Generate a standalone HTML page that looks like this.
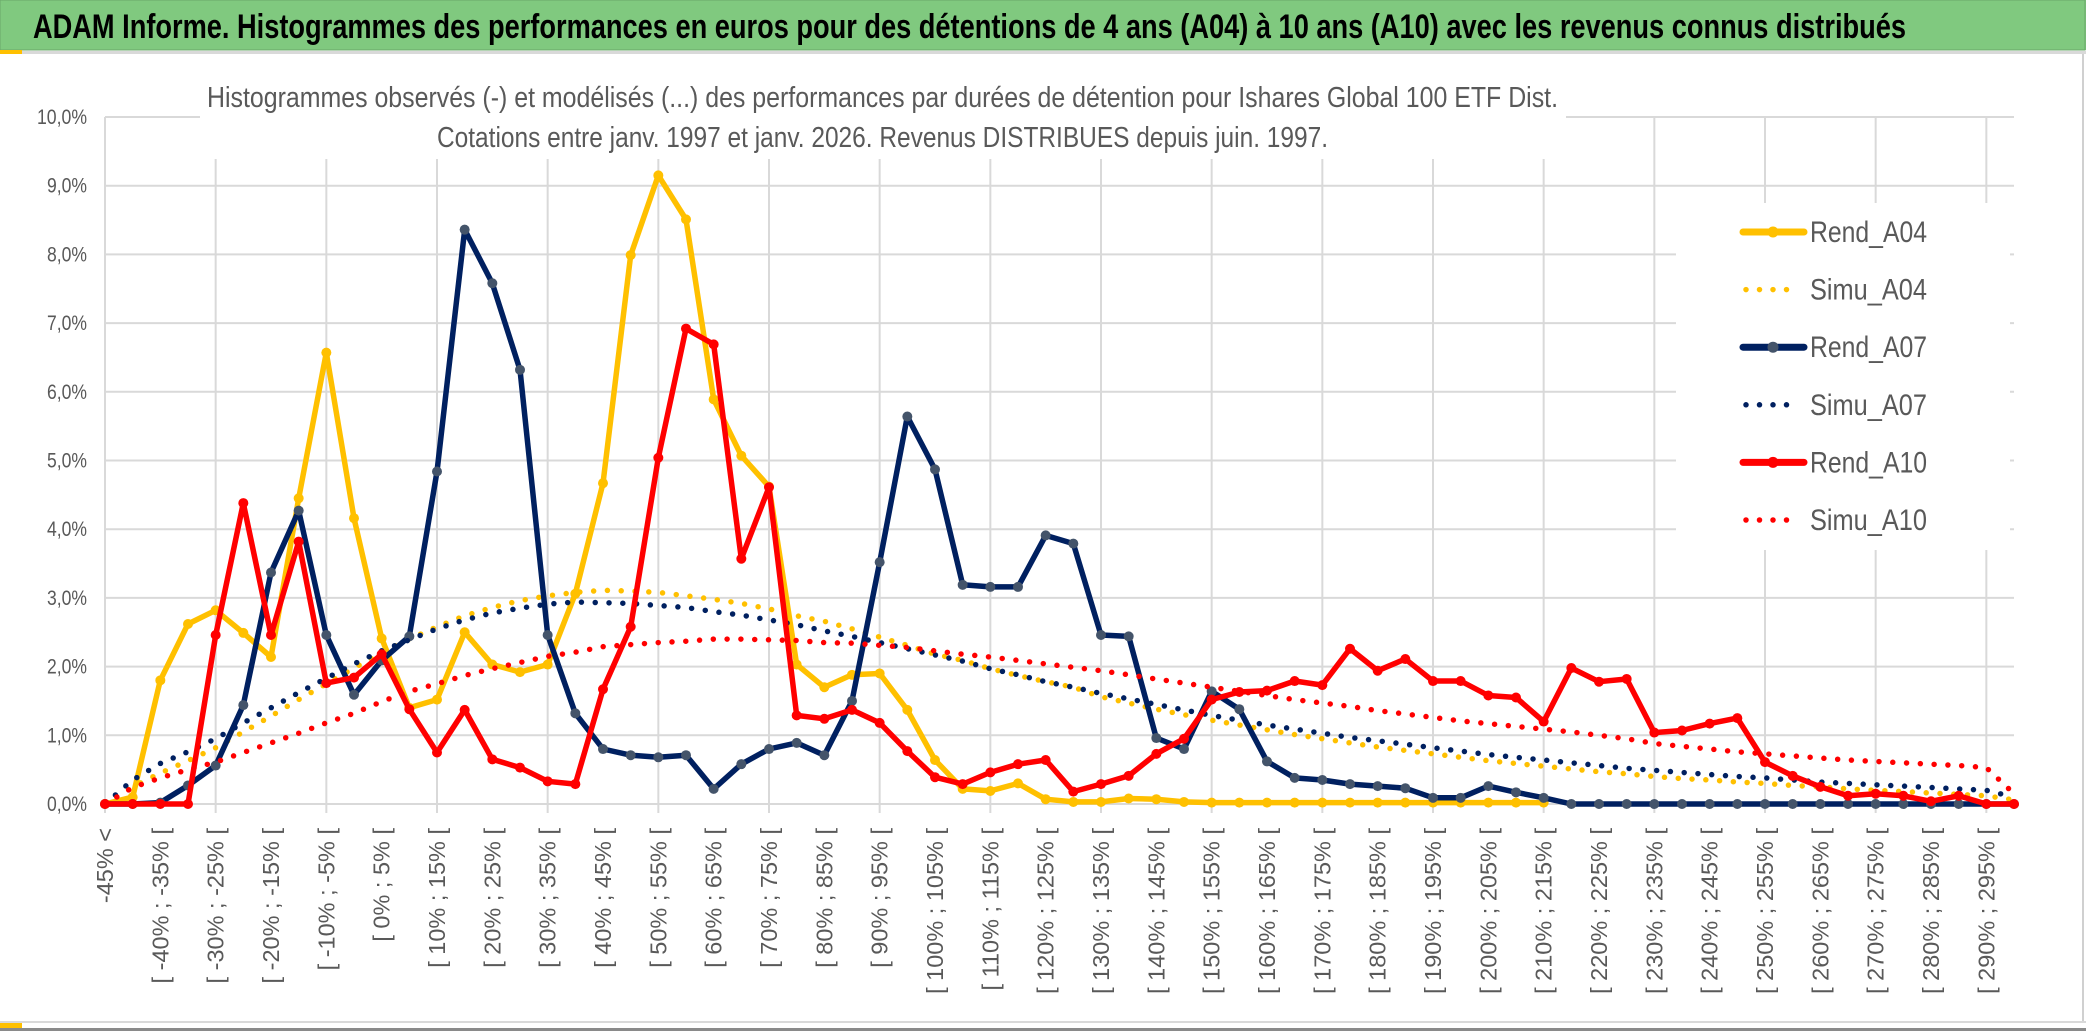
<!DOCTYPE html>
<html><head><meta charset="utf-8"><title>ADAM Informe</title>
<style>
html,body{margin:0;padding:0;background:#fff;}
svg{display:block;}
text{font-family:"Liberation Sans",Arial,sans-serif;}
</style></head>
<body>
<svg id="chart" xmlns="http://www.w3.org/2000/svg" width="2086" height="1031" viewBox="0 0 2086 1031">
  <rect x="0" y="0" width="2086" height="1031" fill="#ffffff"/>
  <rect x="0" y="0" width="2086" height="50" fill="#80c97f"/>
  <rect x="0" y="0" width="2085" height="50" fill="none" stroke="#6aa86a" stroke-width="1"/>
  <text x="33" y="38" font-size="34" font-weight="bold" fill="#000" textLength="1873" lengthAdjust="spacingAndGlyphs">ADAM Informe. Histogrammes des performances en euros pour des détentions de 4 ans (A04) à 10 ans (A10) avec les revenus connus distribués</text>
  <rect x="0" y="51" width="2086" height="3" fill="#d9d9d9"/>
  <rect x="0" y="50" width="22" height="4" fill="#ffc000"/>
  <rect x="2082" y="54" width="2" height="968" fill="#d0d0d0"/>
  <rect x="0" y="1021" width="2086" height="2" fill="#d9d9d9"/>
  <rect x="0" y="1028" width="2086" height="3" fill="#8a8a8a"/>
  <rect x="0" y="1023" width="22" height="5" fill="#ffc000"/>
  <g id="grid"></g>
  <g id="yaxis"></g>
  <g id="xaxis"></g>
  <rect x="200" y="60" width="1366" height="99" fill="#fff"/>
  <text x="207" y="107" font-size="29" fill="#595959" textLength="1351" lengthAdjust="spacingAndGlyphs">Histogrammes observés (-) et modélisés (...) des performances par durées de détention pour Ishares Global 100 ETF Dist.</text>
  <text x="437" y="147" font-size="29" fill="#595959" textLength="891" lengthAdjust="spacingAndGlyphs">Cotations entre janv. 1997 et janv. 2026. Revenus DISTRIBUES depuis juin. 1997.</text>
  <g id="series"></g>
  <rect x="1676" y="203" width="334" height="347" fill="#fff"/>
  <g id="legend"></g>
</svg>
<script>
const categories = ["-45% <","[ -45% ; -40% [","[ -40% ; -35% [","[ -35% ; -30% [","[ -30% ; -25% [","[ -25% ; -20% [","[ -20% ; -15% [","[ -15% ; -10% [","[ -10% ; -5% [","[ -5% ; 0% [","[ 0% ; 5% [","[ 5% ; 10% [","[ 10% ; 15% [","[ 15% ; 20% [","[ 20% ; 25% [","[ 25% ; 30% [","[ 30% ; 35% [","[ 35% ; 40% [","[ 40% ; 45% [","[ 45% ; 50% [","[ 50% ; 55% [","[ 55% ; 60% [","[ 60% ; 65% [","[ 65% ; 70% [","[ 70% ; 75% [","[ 75% ; 80% [","[ 80% ; 85% [","[ 85% ; 90% [","[ 90% ; 95% [","[ 95% ; 100% [","[ 100% ; 105% [","[ 105% ; 110% [","[ 110% ; 115% [","[ 115% ; 120% [","[ 120% ; 125% [","[ 125% ; 130% [","[ 130% ; 135% [","[ 135% ; 140% [","[ 140% ; 145% [","[ 145% ; 150% [","[ 150% ; 155% [","[ 155% ; 160% [","[ 160% ; 165% [","[ 165% ; 170% [","[ 170% ; 175% [","[ 175% ; 180% [","[ 180% ; 185% [","[ 185% ; 190% [","[ 190% ; 195% [","[ 195% ; 200% [","[ 200% ; 205% [","[ 205% ; 210% [","[ 210% ; 215% [","[ 215% ; 220% [","[ 220% ; 225% [","[ 225% ; 230% [","[ 230% ; 235% [","[ 235% ; 240% [","[ 240% ; 245% [","[ 245% ; 250% [","[ 250% ; 255% [","[ 255% ; 260% [","[ 260% ; 265% [","[ 265% ; 270% [","[ 270% ; 275% [","[ 275% ; 280% [","[ 280% ; 285% [","[ 285% ; 290% [","[ 290% ; 295% [","[ 295% ; 300% ["];
const yTicks = [0,1,2,3,4,5,6,7,8,9,10];
const yTickLabels = ["0,0%","1,0%","2,0%","3,0%","4,0%","5,0%","6,0%","7,0%","8,0%","9,0%","10,0%"];
const rendA04 = [0,0.1,1.80,2.62,2.82,2.49,2.14,4.45,6.57,4.16,2.41,1.40,1.52,2.50,2.03,1.92,2.03,3.06,4.67,7.99,9.15,8.51,5.89,5.07,4.62,2.03,1.70,1.88,1.90,1.37,0.64,0.22,0.19,0.30,0.07,0.03,0.03,0.08,0.07,0.03,0.02,0.02,0.02,0.02,0.02,0.02,0.02,0.02,0.02,0.02,0.02,0.02,0.02];
const simuA04 = [0,0.25,0.45,0.63,0.82,1.05,1.28,1.52,1.75,1.98,2.20,2.40,2.58,2.74,2.86,2.96,3.03,3.08,3.11,3.10,3.08,3.03,2.98,2.92,2.84,2.74,2.66,2.55,2.43,2.31,2.18,2.09,1.97,1.87,1.78,1.70,1.56,1.47,1.38,1.30,1.22,1.15,1.08,1.01,0.95,0.89,0.83,0.78,0.73,0.68,0.63,0.59,0.55,0.51,0.47,0.44,0.40,0.37,0.35,0.32,0.30,0.27,0.25,0.22,0.20,0.18,0.16,0.14,0.12,0.06];
const rendA07 = [0,0,0.02,0.27,0.56,1.44,3.37,4.27,2.46,1.59,2.09,2.44,4.84,8.36,7.58,6.32,2.46,1.32,0.80,0.71,0.68,0.71,0.22,0.58,0.80,0.89,0.71,1.50,3.52,5.64,4.87,3.19,3.16,3.16,3.91,3.79,2.46,2.44,0.96,0.80,1.64,1.38,0.62,0.38,0.35,0.29,0.26,0.23,0.09,0.09,0.26,0.17,0.09,0,0,0,0,0,0,0,0,0,0,0,0,0,0,0,0,0];
const simuA07 = [0,0.35,0.59,0.76,0.95,1.18,1.40,1.62,1.83,2.04,2.23,2.39,2.55,2.68,2.78,2.85,2.91,2.94,2.93,2.92,2.89,2.86,2.80,2.75,2.68,2.61,2.52,2.44,2.35,2.26,2.17,2.08,1.97,1.88,1.78,1.70,1.61,1.53,1.45,1.37,1.29,1.22,1.15,1.09,1.03,0.97,0.92,0.87,0.82,0.77,0.72,0.68,0.64,0.60,0.56,0.52,0.49,0.46,0.43,0.40,0.38,0.35,0.32,0.30,0.28,0.26,0.24,0.22,0.20,0.10];
const rendA10 = [0,0,0,0,2.46,4.38,2.46,3.82,1.76,1.84,2.18,1.38,0.75,1.37,0.65,0.53,0.33,0.29,1.67,2.58,5.04,6.92,6.69,3.57,4.61,1.29,1.24,1.37,1.18,0.77,0.39,0.29,0.46,0.58,0.64,0.18,0.29,0.41,0.73,0.95,1.52,1.63,1.65,1.79,1.73,2.26,1.94,2.11,1.79,1.79,1.58,1.55,1.20,1.98,1.78,1.82,1.04,1.07,1.17,1.25,0.61,0.41,0.25,0.12,0.15,0.12,0.04,0.12,0,0];
const simuA10 = [0,0.24,0.38,0.50,0.61,0.75,0.89,1.03,1.18,1.32,1.49,1.64,1.75,1.87,1.97,2.06,2.15,2.21,2.29,2.32,2.35,2.37,2.40,2.40,2.39,2.38,2.35,2.34,2.31,2.28,2.23,2.18,2.14,2.09,2.04,1.99,1.94,1.88,1.82,1.76,1.70,1.64,1.58,1.52,1.47,1.42,1.36,1.31,1.26,1.21,1.17,1.13,1.09,1.05,1.00,0.95,0.88,0.84,0.80,0.76,0.73,0.70,0.67,0.64,0.62,0.60,0.58,0.56,0.53,0.15];
const seriesNames = ["Rend_A04","Simu_A04","Rend_A07","Simu_A07","Rend_A10","Simu_A10"];

const NS = "http://www.w3.org/2000/svg";
const X0 = 105, X1 = 2014, Y0 = 804, PER = 68.7;
const step = (X1 - X0) / (categories.length - 1);
function xPos(i){ return X0 + i * step; }
function yPos(v){ return Y0 - v * PER; }
function mk(tag, attrs, parent){
  const e = document.createElementNS(NS, tag);
  for (const k in attrs) e.setAttribute(k, attrs[k]);
  parent.appendChild(e);
  return e;
}
const grid = document.getElementById('grid');
const yaxis = document.getElementById('yaxis');
const xaxis = document.getElementById('xaxis');
const seriesG = document.getElementById('series');
const legend = document.getElementById('legend');

yTicks.forEach((t, k) => {
  const ln = mk('line', {x1: X0, x2: X1, y1: yPos(t), y2: yPos(t), stroke: '#d9d9d9', 'stroke-width': 2}, grid);
  
  
  const w = yTickLabels[k].length === 5 ? 50 : 40;
  const tx = mk('text', {x: 87 - w, y: yPos(t) + 7, 'font-size': 21, fill: '#595959', textLength: w, lengthAdjust: 'spacingAndGlyphs'}, yaxis);
  tx.textContent = yTickLabels[k];
  
  
});
categories.forEach((c, i) => {
  if (i % 4 === 0) {
    const vl = mk('line', {x1: xPos(i), x2: xPos(i), y1: yPos(10), y2: Y0 + 9, stroke: '#d9d9d9', 'stroke-width': 2}, grid);
    
    
  }
  if (i % 2 === 0) {
    const tx = mk('text', {x: 0, y: 0, 'font-size': 23.5, fill: '#595959', 'text-anchor': 'end',
      transform: 'translate(' + (xPos(i) + 8) + ',828) rotate(-90)'}, xaxis);
    tx.textContent = c;
    
    
  }
});

function drawRend(data, color, markerColor, name){
  const g = mk('g', {}, seriesG);
  
  
  const pts = data.map((v, i) => xPos(i).toFixed(1) + ',' + yPos(v).toFixed(1)).join(' ');
  const pl = mk('polyline', {points: pts, fill: 'none', stroke: color, 'stroke-width': 5.5, 'stroke-linejoin': 'round', 'stroke-linecap': 'round'}, g);
  
  
  data.forEach((v, i) => {
    const c = mk('circle', {cx: xPos(i), cy: yPos(v), r: 5, fill: markerColor}, g);
    
    
  });
}
function drawSimu(data, color, name){
  const pts = data.map((v, i) => xPos(i).toFixed(1) + ',' + yPos(v).toFixed(1)).join(' ');
  const pl = mk('polyline', {points: pts, fill: 'none', stroke: color, 'stroke-width': 5.5, 'stroke-linecap': 'round', 'stroke-dasharray': '0 13.8'}, seriesG);
  
  
}
drawRend(rendA04, '#ffc000', '#ffc000', 'rend-a04');
drawSimu(simuA04, '#ffc000', 'simu-a04');
drawRend(rendA07, '#002060', '#44546a', 'rend-a07');
drawSimu(simuA07, '#002060', 'simu-a07');
drawRend(rendA10, '#ff0000', '#ff0000', 'rend-a10');
drawSimu(simuA10, '#ff0000', 'simu-a10');

const legColors = ['#ffc000','#ffc000','#002060','#002060','#ff0000','#ff0000'];
const legMarkers = ['#ffc000',null,'#44546a',null,'#ff0000',null];
seriesNames.forEach((n, k) => {
  const cy = 232 + k * 57.6;
  const g = mk('g', {}, legend);
  
  
  if (legMarkers[k]) {
    mk('line', {x1: 1743, x2: 1804, y1: cy, y2: cy, stroke: legColors[k], 'stroke-width': 7, 'stroke-linecap': 'round'}, g);
    mk('circle', {cx: 1773, cy: cy, r: 5.5, fill: legMarkers[k]}, g);
  } else {
    mk('line', {x1: 1746, x2: 1800, y1: cy, y2: cy, stroke: legColors[k], 'stroke-width': 5.5, 'stroke-linecap': 'round', 'stroke-dasharray': '0 13.5'}, g);
  }
  const t = mk('text', {x: 1810, y: cy + 10, 'font-size': 30, fill: '#595959', textLength: 117, lengthAdjust: 'spacingAndGlyphs'}, g);
  t.textContent = n;
  
  
});
</script>
</body></html>
